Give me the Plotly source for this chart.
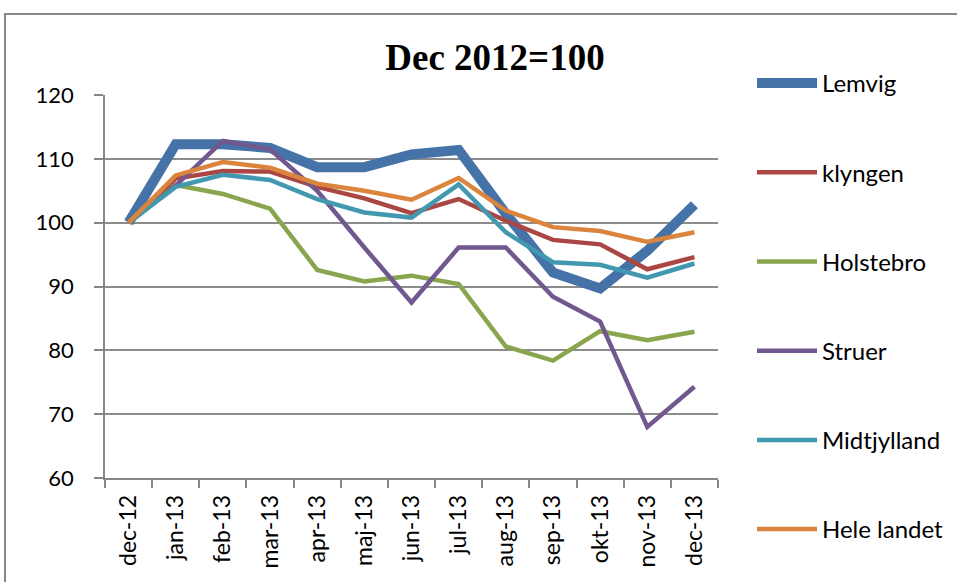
import plotly.graph_objects as go

months = ["dec-12", "jan-13", "feb-13", "mar-13", "apr-13", "maj-13", "jun-13",
          "jul-13", "aug-13", "sep-13", "okt-13", "nov-13", "dec-13"]

lemvig = [100, 112.3, 112.3, 111.7, 108.7, 108.7, 110.7, 111.4, 101.4, 92.2, 89.7, 95.6, 102.8]
klyngen = [100, 106.9, 108.1, 108.0, 105.6, 103.8, 101.5, 103.7, 100.3, 97.3, 96.6, 92.7, 94.6]
holstebro = [100, 105.9, 104.5, 102.2, 92.6, 90.8, 91.7, 90.4, 80.6, 78.4, 83.0, 81.6, 82.9]
struer = [100, 105.8, 112.8, 111.5, 105.0, 96.1, 87.5, 96.1, 96.1, 88.4, 84.5, 68.0, 74.3]
midtjylland = [100, 105.6, 107.5, 106.7, 103.7, 101.6, 100.8, 106.0, 98.5, 93.8, 93.4, 91.4, 93.6]
hele_landet = [100, 107.4, 109.5, 108.6, 106.1, 105.0, 103.6, 107.0, 101.9, 99.3, 98.7, 97.0, 98.5]

series_names = ["Lemvig", "klyngen", "Holstebro", "Struer", "Midtjylland", "Hele landet"]
series_values = [lemvig, klyngen, holstebro, struer, midtjylland, hele_landet]
colors = ["#4572A7", "#AA4643", "#89A54E", "#71588F", "#4198AF", "#DB843D"]
widths = [10, 4.5, 4.5, 4.5, 4.5, 4.5]

y_ticks = [60, 70, 80, 90, 100, 110, 120]

fig = go.Figure()
for name, vals, c, w in zip(series_names, series_values, colors, widths):
    fig.add_trace(go.Scatter(
        x=months, y=vals, name=name, mode="lines",
        line=dict(color=c, width=w),
        legendgroup=name,
    ))

W, H = 957, 582
L, R, T, B = 105, 239, 95, 104
pw, ph = W - L - R, H - T - B

fig.update_layout(
    width=W, height=H,
    margin=dict(l=L, r=R, t=T, b=B, autoexpand=False),
    paper_bgcolor="white", plot_bgcolor="white",
    font=dict(family="Lato", size=20, color="black"),
    title=dict(text="<b>Dec 2012=100</b>", x=(495 - L) / pw, xref="paper",
               xanchor="center", y=1 - 57 / H, yanchor="middle",
               font=dict(family="Liberation Serif", size=37, color="black")),
    showlegend=True,
    legend=dict(xref="container", yref="container",
                x=752 / W, xanchor="left", y=1 - 61 / H, yanchor="top",
                font=dict(family="Lato", size=24, color="black"),
                tracegroupgap=55, itemwidth=60, maxheight=560,
                bgcolor="rgba(0,0,0,0)"),
    xaxis=dict(type="category", range=[-0.5, 12.5], tickson="boundaries",
               ticks="outside", ticklen=8, tickcolor="#868686", tickwidth=1.5,
               showline=True, linecolor="#868686", linewidth=1.5,
               tickangle=-90, showgrid=False, automargin=False,
               ticklabelstandoff=6,
               tickfont=dict(family="Lato", size=23, color="black")),
    yaxis=dict(range=[60, 120], tickvals=y_ticks, ticks="outside", ticklen=9,
               tickcolor="#868686", tickwidth=1.5, showline=True, linecolor="#868686",
               linewidth=1.5, showgrid=True, gridcolor="#8c8c8c", gridwidth=1.5,
               zeroline=False, ticklabelstandoff=16, automargin=False,
               tickfont=dict(family="Lato", size=22, color="black")),
)

fig.add_shape(type="rect", xref="paper", yref="paper",
              x0=(5 - L) / pw, x1=2.0, y0=-1.0, y1=1 + (T - 14) / ph,
              line=dict(color="#868686", width=2), fillcolor="rgba(0,0,0,0)", layer="below")

fig.write_html("out.html", config={"displayModeBar": False},
               post_script="document.body.style.margin='0';document.body.style.overflow='hidden';")
